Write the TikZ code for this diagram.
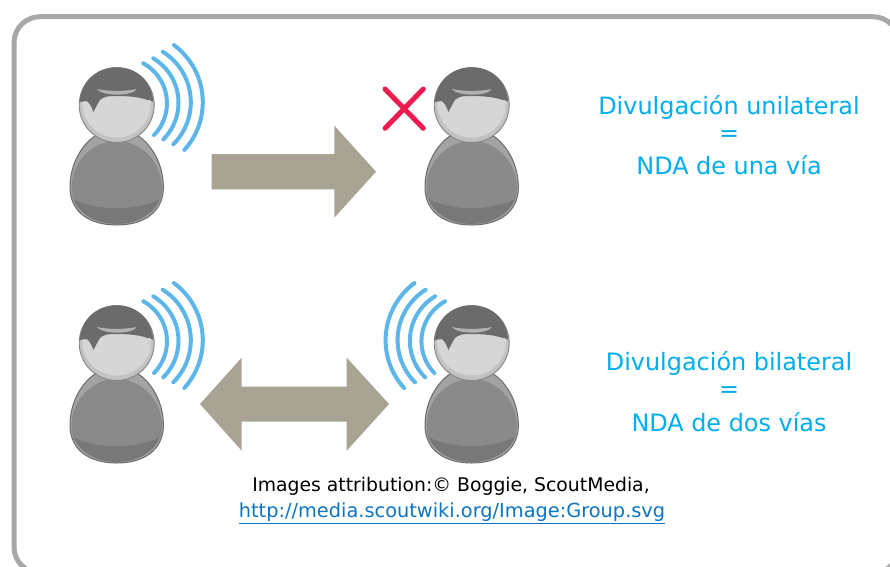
\documentclass[tikz,border=0pt]{standalone}
\usepackage{fontspec}
\setmainfont{DejaVu Sans}
\definecolor{framegray}{HTML}{A8A8A8}
\definecolor{arrowtan}{HTML}{A9A394}
\definecolor{wavecol}{HTML}{5CB6EA}
\definecolor{crosscol}{HTML}{EE1B4E}
\definecolor{capt}{HTML}{00AEEF}
\definecolor{linkcol}{HTML}{0B76C5}
\tikzset{
  framebox/.style={draw=framegray,line width=5pt,rounded corners=26pt},
  bigarrow/.style={fill=arrowtan},
  wavearc/.style={draw=wavecol,line width=4pt,line cap=round},
  crossline/.style={draw=crosscol,line width=5pt,line cap=round},
  captiontext/.style={text=capt,font=\fontsize{23.9}{28}\selectfont,align=center,inner sep=0pt},
  attrtext/.style={text=black,font=\fontsize{18.8}{22}\selectfont,align=center,inner sep=0pt},
  linktext/.style={text=linkcol,font=\fontsize{19.35}{22}\selectfont,align=center,inner sep=0pt},
}
\newcommand{\personfig}[2]{%
  \begin{scope}[shift={(#1,#2)}]
    % body
    \fill[draw=black!58,line width=1pt,fill=black!36]
      (0,24) .. controls (26,24) and (46.7,52) .. (46.7,82)
      .. controls (46.7,108) and (26,120) .. (0,120)
      .. controls (-26,120) and (-46.7,108) .. (-46.7,82)
      .. controls (-46.7,52) and (-26,24) .. (0,24) -- cycle;
    \fill[black!46]
      (0,36) .. controls (24,36) and (44.5,56) .. (45.2,82)
      .. controls (45.2,88) and (44.5,92) .. (43.5,94)
      .. controls (20,106) and (-20,106) .. (-43.5,94)
      .. controls (-44.5,92) and (-45.2,88) .. (-45.2,82)
      .. controls (-44.5,56) and (-24,36) .. (0,36) -- cycle;
    \fill[black!53]
      (-43.5,94) .. controls (-20,106) and (20,106) .. (43.5,94)
      .. controls (38,108) and (22,119) .. (0,119)
      .. controls (-22,119) and (-38,108) .. (-43.5,94) -- cycle;
    % head
    \fill[fill=black!24] (0,0) circle[radius=37.5];
    \fill[fill=black!16] (0,-2) circle[radius=34.5];
    \draw[black!48,line width=0.9pt] (0,0) circle[radius=37.5];
    % hair
    \fill[black!58]
      (-37,-3) .. controls (-35.5,-24) and (-20,-37.5) .. (0,-37.5)
      .. controls (20,-37.5) and (35,-24) .. (36.5,-3)
      .. controls (34,-5) and (33,-5) .. (31,-5)
      .. controls (20,-9) and (6,-9) .. (-5,-9)
      .. controls (-12,-9) and (-17,-6) .. (-18,-3)
      -- (-23.3,7)
      .. controls (-25,2) and (-27,-2) .. (-30,-4)
      .. controls (-33,-4) and (-35,-3) .. (-37,-3) -- cycle;
    \fill[black!30]
      (-20,-16) .. controls (-8,-13.5) and (8,-13.5) .. (20,-16)
      .. controls (16,-8.5) and (-14,-8.5) .. (-20,-16) -- cycle;
    \draw[white!80!black,line width=1.4pt,line cap=round]
      (33,-1) .. controls (34.5,4) and (34,9) .. (31,14);
  \end{scope}}
\newcommand{\wavearcs}[3]{%
  \begin{scope}[shift={(#1,#2)},xscale=#3]
    \draw[wavearc] plot[domain=-61.3:44.3,samples=30] ({4.75+45.5*cos(\x)},{-1.77+45.5*sin(\x)});
    \draw[wavearc] plot[domain=-59.2:45.1,samples=30] ({10.1+51.7*cos(\x)},{-2.3+51.7*sin(\x)});
    \draw[wavearc] plot[domain=-58.2:45.1,samples=30] ({14.7+59.4*cos(\x)},{-2.8+59.4*sin(\x)});
    \draw[wavearc] plot[domain=-53.6:42.3,samples=30] ({15.1+71*cos(\x)},{-2.8+71*sin(\x)});
  \end{scope}}
\begin{document}
\begin{tikzpicture}[x=1pt,y=-1pt]
  \useasboundingbox (0,0) rectangle (890,566);
  \clip (0,0) rectangle (890,566);
  \fill[white] (0,0) rectangle (890,566);
  \draw[framebox] (14,16.7) rectangle (899,573);

  \wavearcs{116.7}{105}{1}
  \personfig{116.7}{105}
  \personfig{471.7}{105}
  \draw[crossline] (385,89) -- (423.3,128.3);
  \draw[crossline] (423.3,89) -- (385,128.3);

  \wavearcs{116.7}{343}{1}
  \personfig{116.7}{343}
  \wavearcs{471.7}{343}{-1}
  \personfig{471.7}{343}

  \fill[bigarrow] (211.7,154) -- (334.3,154) -- (334.3,125.7) -- (376,171.7)
     -- (334.3,217.7) -- (334.3,189.3) -- (211.7,189.3) -- cycle;
  \fill[bigarrow] (200,404) -- (241.7,357.7) -- (241.7,386.7) -- (346.7,386.7)
     -- (346.7,357.7) -- (389,404) -- (346.7,450.7) -- (346.7,421.7)
     -- (241.7,421.7) -- (241.7,450.7) -- cycle;

  \node[captiontext] (cap1a) at (729,107) {Divulgación unilateral};
  \node[captiontext] (cap1b) at (729,136) {=};
  \node[captiontext] (cap1c) at (729,165) {NDA de una vía};
  \node[captiontext] (cap2a) at (729,363) {Divulgación bilateral};
  \node[captiontext] (cap2b) at (729,392) {=};
  \node[captiontext] (cap2c) at (729,422) {NDA de dos vías};
  \node[attrtext] (attr1) at (451,486.5) {Images attribution:© Boggie, ScoutMedia,};
  \node[linktext] (attr2) at (452,513.5) {\underline{http://media.scoutwiki.org/Image:Group.svg}};
\end{tikzpicture}
\end{document}
